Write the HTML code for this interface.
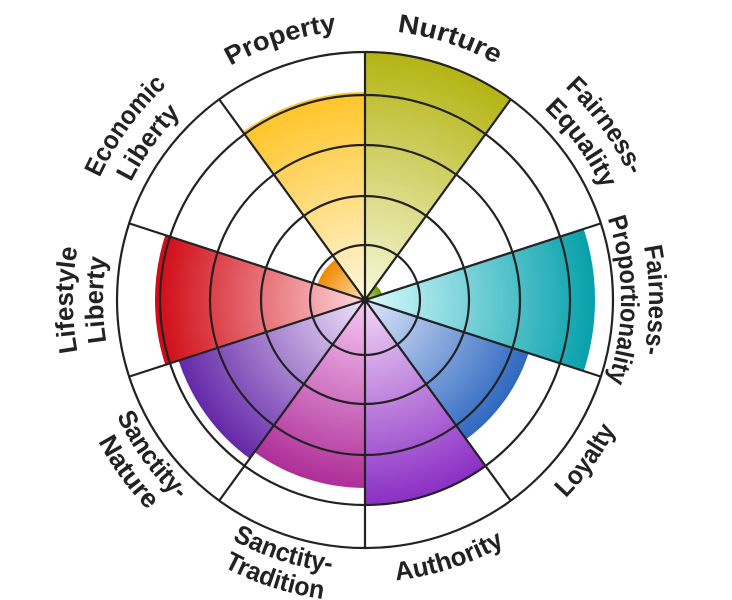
<!DOCTYPE html>
<html><head><meta charset="utf-8"><style>
html,body{margin:0;padding:0;background:#fff;}
svg{display:block;}
text{font-family:"Liberation Sans",sans-serif;font-weight:bold;font-size:26px;fill:#222;}
</style></head><body>
<svg width="732" height="600" viewBox="0 0 732 600" xmlns="http://www.w3.org/2000/svg">
<defs>
<radialGradient id="gN" gradientUnits="userSpaceOnUse" cx="365" cy="300" r="248"><stop offset="0" stop-color="#f8f8dc"/><stop offset="1" stop-color="#b4b414"/></radialGradient>
<radialGradient id="gFE" gradientUnits="userSpaceOnUse" cx="365" cy="300" r="18"><stop offset="0" stop-color="#c8e070"/><stop offset="1" stop-color="#6a9a10"/></radialGradient>
<radialGradient id="gFP" gradientUnits="userSpaceOnUse" cx="365" cy="300" r="230"><stop offset="0" stop-color="#d8fcff"/><stop offset="1" stop-color="#07a0ab"/></radialGradient>
<radialGradient id="gL" gradientUnits="userSpaceOnUse" cx="365" cy="300" r="172"><stop offset="0" stop-color="#dfe8fb"/><stop offset="1" stop-color="#2e68c0"/></radialGradient>
<radialGradient id="gA" gradientUnits="userSpaceOnUse" cx="365" cy="300" r="205"><stop offset="0" stop-color="#f4d8f8"/><stop offset="1" stop-color="#8a2fc4"/></radialGradient>
<radialGradient id="gST" gradientUnits="userSpaceOnUse" cx="365" cy="300" r="188"><stop offset="0" stop-color="#f8c8f4"/><stop offset="1" stop-color="#ae2e98"/></radialGradient>
<radialGradient id="gSN" gradientUnits="userSpaceOnUse" cx="365" cy="300" r="196"><stop offset="0" stop-color="#efe4fa"/><stop offset="1" stop-color="#6428a8"/></radialGradient>
<radialGradient id="gLL" gradientUnits="userSpaceOnUse" cx="365" cy="300" r="210"><stop offset="0" stop-color="#fdd8dc"/><stop offset="1" stop-color="#d00a14"/></radialGradient>
<radialGradient id="gEL" gradientUnits="userSpaceOnUse" cx="365" cy="300" r="50"><stop offset="0" stop-color="#ffe0b0"/><stop offset="1" stop-color="#f08a00"/></radialGradient>
<radialGradient id="gP" gradientUnits="userSpaceOnUse" cx="365" cy="300" r="208"><stop offset="0" stop-color="#fff6dc"/><stop offset="1" stop-color="#ffc428"/></radialGradient>
<path id="cw1" d="M365,30 A270,270 0 1 1 365,570 A270,270 0 1 1 365,30"/>
<path id="cw2" d="M365,8 A292,292 0 1 1 365,592 A292,292 0 1 1 365,8"/>
<path id="cw3" d="M365,38 A262,262 0 1 1 365,562 A262,262 0 1 1 365,38"/>
<path id="cw4" d="M365,44 A256,256 0 1 1 365,556 A256,256 0 1 1 365,44"/>
<path id="cw5" d="M365,16 A284,284 0 1 1 365,584 A284,284 0 1 1 365,16"/>
<path id="ccw1" d="M365,18 A282,282 0 1 0 365,582 A282,282 0 1 0 365,18"/>
<path id="ccw2" d="M365,26 A274,274 0 1 0 365,574 A274,274 0 1 0 365,26"/>
<path id="ccw3" d="M365,-2 A302,302 0 1 0 365,602 A302,302 0 1 0 365,-2"/>
</defs>
<g id="wedges"></g>
<script>
(function(){
var cx=365,cy=300,g=document.getElementById('wedges');
var data=[[0,248,'gN'],[36,18,'gFE'],[72,230,'gFP'],[108,172,'gL'],[144,205,'gA'],[180,188,'gST'],[216,196,'gSN'],[252,210,'gLL'],[288,50,'gEL'],[324,208,'gP']];
function pt(a,r){var t=a*Math.PI/180;return [cx+r*Math.sin(t),cy-r*Math.cos(t)];}
data.forEach(function(d){var a=pt(d[0],d[1]),b=pt(d[0]+36,d[1]);
var p=document.createElementNS('http://www.w3.org/2000/svg','path');
p.setAttribute('d','M'+cx+','+cy+' L'+a[0]+','+a[1]+' A'+d[1]+','+d[1]+' 0 0 1 '+b[0]+','+b[1]+' Z');
p.setAttribute('fill','url(#'+d[2]+')');g.appendChild(p);});
var s='';for(var i=0;i<10;i++){var e=pt(i*36,248);s+='M'+cx+','+cy+' L'+e[0]+','+e[1]+' ';}
var l=document.createElementNS('http://www.w3.org/2000/svg','path');
l.setAttribute('d',s);l.setAttribute('stroke','#222');l.setAttribute('stroke-width','2.2');l.setAttribute('fill','none');g.appendChild(l);
})();
</script>
<g fill="none" stroke="#222" stroke-width="2.2">
<circle cx="365" cy="300" r="55"/><circle cx="365" cy="300" r="104"/><circle cx="365" cy="300" r="155"/><circle cx="365" cy="300" r="205"/><circle cx="365" cy="300" r="248"/>
</g>
<circle cx="365" cy="300" r="4" fill="#222"/>
<text><textPath href="#cw1" startOffset="5%" text-anchor="middle" textLength="105" lengthAdjust="spacingAndGlyphs">Nurture</textPath></text>
<text><textPath href="#cw1" startOffset="95%" text-anchor="middle" textLength="112" lengthAdjust="spacingAndGlyphs">Property</textPath></text>
<text><textPath href="#cw2" startOffset="15%" text-anchor="middle" textLength="110" lengthAdjust="spacingAndGlyphs">Fairness-</textPath></text>
<text><textPath href="#cw3" startOffset="15%" text-anchor="middle" textLength="100" lengthAdjust="spacingAndGlyphs">Equality</textPath></text>
<text><textPath href="#cw5" startOffset="25%" text-anchor="middle" textLength="108" lengthAdjust="spacingAndGlyphs">Fairness-</textPath></text>
<text><textPath href="#cw4" startOffset="25%" text-anchor="middle" textLength="166" lengthAdjust="spacingAndGlyphs">Proportionality</textPath></text>
<text><textPath href="#cw2" startOffset="85%" text-anchor="middle" textLength="115" lengthAdjust="spacingAndGlyphs">Economic</textPath></text>
<text><textPath href="#cw3" startOffset="85%" text-anchor="middle" textLength="85" lengthAdjust="spacingAndGlyphs">Liberty</textPath></text>
<text><textPath href="#cw2" startOffset="75%" text-anchor="middle" textLength="105" lengthAdjust="spacingAndGlyphs">Lifestyle</textPath></text>
<text><textPath href="#cw3" startOffset="75%" text-anchor="middle" textLength="85" lengthAdjust="spacingAndGlyphs">Liberty</textPath></text>
<text><textPath href="#ccw1" startOffset="65%" text-anchor="middle" textLength="85" lengthAdjust="spacingAndGlyphs">Loyalty</textPath></text>
<text><textPath href="#ccw1" startOffset="55%" text-anchor="middle" textLength="115" lengthAdjust="spacingAndGlyphs">Authority</textPath></text>
<text><textPath href="#ccw2" startOffset="45%" text-anchor="middle" textLength="105" lengthAdjust="spacingAndGlyphs">Sanctity-</textPath></text>
<text><textPath href="#ccw3" startOffset="45%" text-anchor="middle" textLength="105" lengthAdjust="spacingAndGlyphs">Tradition</textPath></text>
<text><textPath href="#ccw2" startOffset="35%" text-anchor="middle" textLength="105" lengthAdjust="spacingAndGlyphs">Sanctity-</textPath></text>
<text><textPath href="#ccw3" startOffset="35%" text-anchor="middle" textLength="85" lengthAdjust="spacingAndGlyphs">Nature</textPath></text>
</svg>
</body></html>
